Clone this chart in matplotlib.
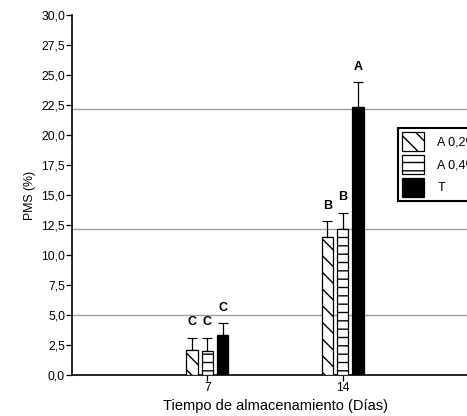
import matplotlib.pyplot as plt
import numpy as np

plt.rcParams['font.family'] = ['Liberation Sans', 'DejaVu Sans']

# storage days and treatment groups
days = ['7', '14']
series = ['A 0,2%', 'A 0,4%', 'T']
means = {
    'A 0,2%': [2.1, 11.5],
    'A 0,4%': [2.0, 12.2],
    'T': [3.3, 22.3],
}
errs = {
    'A 0,2%': [1.0, 1.3],
    'A 0,4%': [1.1, 1.3],
    'T': [1.0, 2.1],
}
letters = {
    'A 0,2%': ['C', 'B'],
    'A 0,4%': ['C', 'B'],
    'T': ['C', 'A'],
}
ref_lines = [5.0, 12.2, 22.2]

hatches = ['\\\\', '--', None]
faces = ['white', 'white', 'black']

fig = plt.figure(figsize=(4.67, 4.16), dpi=100)
ax = fig.add_axes([0.1542, 0.0986, 0.8694, 0.8654])

for y in ref_lines:
    ax.axhline(y, color='#a0a0a0', lw=1.0, zorder=1)

x = np.arange(1, len(days) + 1)
width = 0.083
step = 0.113
for i, s in enumerate(series):
    pos = x + (i - 1) * step
    ax.bar(pos, means[s], width, color=faces[i], edgecolor='black',
           hatch=hatches[i], linewidth=0.9, label=s, zorder=3)
    ax.errorbar(pos, means[s], yerr=[np.zeros(len(days)), errs[s]], fmt='none',
                ecolor='black', elinewidth=0.9, capsize=3.6, capthick=0.9, zorder=2)
    for p, m, e, t in zip(pos, means[s], errs[s], letters[s]):
        ax.text(p, m + e + 0.8, t, ha='center', va='bottom',
                fontsize=9, fontweight='bold')

ax.set_xlim(0, 3)
ax.set_ylim(0, 30)
ax.set_xticks(x)
ax.set_xticklabels(days)
yt = np.arange(0, 30.1, 2.5)
ax.set_yticks(yt)
ax.set_yticklabels([f'{v:.1f}'.replace('.', ',') for v in yt])
ax.tick_params(labelsize=8.8, length=4, width=0.9, pad=1)
ax.spines['top'].set_visible(False)
ax.spines['right'].set_visible(False)
ax.spines['left'].set_linewidth(1.2)
ax.spines['bottom'].set_linewidth(1.2)

ax.set_ylabel('PMS (%)', fontsize=8.8, labelpad=4)
ax.set_xlabel('Tiempo de almacenamiento (Días)', fontsize=10.5, labelpad=4)

leg = fig.legend(loc='upper left', bbox_to_anchor=(398 / 467, 1 - 128 / 416),
                 fontsize=9, frameon=True, fancybox=False, edgecolor='black',
                 framealpha=1, borderpad=0.35, borderaxespad=0,
                 handlelength=1.7, handleheight=1.9,
                 labelspacing=0.35, handletextpad=1.1)
leg.get_frame().set_linewidth(1.5)

fig.savefig('out.png', dpi=100)
